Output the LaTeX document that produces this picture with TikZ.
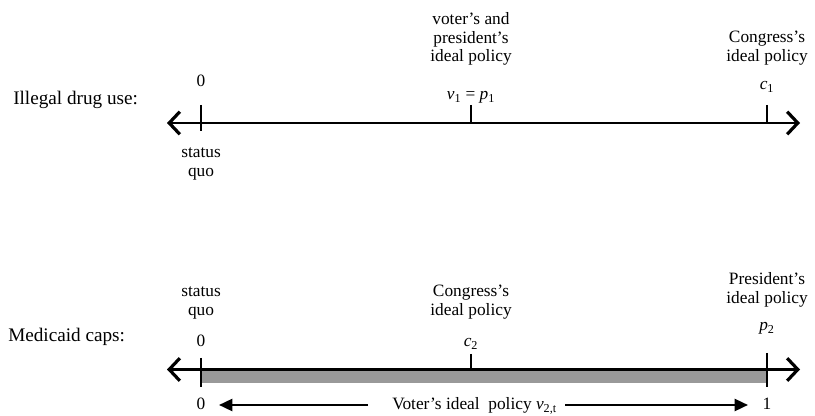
\documentclass[tikz,border=0pt]{standalone}
\usepackage{fontspec}
\setmainfont{Liberation Serif}
\usetikzlibrary{arrows.meta}
\definecolor{bargray}{gray}{0.6}
\tikzset{
  lbl/.style={inner sep=0pt, anchor=base, font=\fontsize{13}{15}\selectfont},
  side/.style={inner sep=0pt, anchor=base west, font=\fontsize{14.4}{17}\selectfont},
  axis/.style={line width=2.2pt, {Straight Barb[length=8pt,width=17pt,line width=2.4pt]}-{Straight Barb[length=8pt,width=17pt,line width=2.4pt]}},
  tick/.style={line width=1.6pt},
  vline/.style={line width=1.8pt, -{Triangle[length=10pt,width=9pt]}},
}
\begin{document}
\begin{tikzpicture}[x=0.75pt,y=-0.75pt]
\useasboundingbox (0,0) rectangle (815,416);
% ---------- top line ----------
\node[side] (drug) at (13,105) {Illegal drug use:};
\coordinate (L1) at (167,123);
\coordinate (R1) at (800,123);
\coordinate (a0) at (201,105); \coordinate (a0b) at (201,131);
\coordinate (av) at (471,105); \coordinate (avb) at (471,123);
\coordinate (ac) at (767,105); \coordinate (acb) at (767,123);
\draw[axis] (L1) -- (R1);
\draw[tick] (a0) -- (a0b);
\draw[tick] (av) -- (avb);
\draw[tick] (ac) -- (acb);
\node[lbl] (z1) at (201,87) {0};
\node[lbl] (sq1) at (201,158) {status};
\node[lbl] (sq2) at (201,177) {quo};
\node[lbl] (vp1) at (471,25) {voter's and};
\node[lbl] (vp2) at (471,43.5) {president's};
\node[lbl] (vp3) at (471,62) {ideal policy};
\node[lbl] (vp) at (471,100) {\textit{v}\textsubscript{1} = \textit{p}\textsubscript{1}};
\node[lbl] (cg1) at (767,43) {Congress's};
\node[lbl] (cg2) at (767,62) {ideal policy};
\node[lbl] (c1) at (767,90) {\textit{c}\textsubscript{1}};
% ---------- bottom line ----------
\node[side] (med) at (8,342) {Medicaid caps:};
\fill[bargray] (201,370) rectangle (767,383);
\coordinate (L2) at (167,369.5);
\coordinate (R2) at (800,369.5);
\draw[axis] (L2) -- (R2);
\coordinate (b0) at (201,358); \coordinate (b0b) at (201,387);
\coordinate (bc) at (471,354); \coordinate (bcb) at (471,369.5);
\coordinate (bp) at (767,353); \coordinate (bpb) at (767,387);
\draw[tick] (b0) -- (b0b);
\draw[tick] (bc) -- (bcb);
\draw[tick] (bp) -- (bpb);
\node[lbl] (sq3) at (201,297) {status};
\node[lbl] (sq4) at (201,316) {quo};
\node[lbl] (z2) at (201,347) {0};
\node[lbl] (cg3) at (471,297) {Congress's};
\node[lbl] (cg4) at (471,316) {ideal policy};
\node[lbl] (c2) at (471,347) {\textit{c}\textsubscript{2}};
\node[lbl] (pr1) at (767,285) {President's};
\node[lbl] (pr2) at (767,304) {ideal policy};
\node[lbl] (p2) at (767,331) {\textit{p}\textsubscript{2}};
% voter's range
\node[lbl] (z3) at (201,410) {0};
\node[lbl] (one) at (767,410) {1};
\node[lbl, anchor=base west] (vt) at (392,410) {Voter's ideal\ \ policy \textit{v}\textsubscript{2,t}};
\coordinate (va) at (368,405); \coordinate (vaa) at (219,405);
\coordinate (vb) at (565,405); \coordinate (vbb) at (748,405);
\draw[vline] (va) -- (vaa);
\draw[vline] (vb) -- (vbb);
\end{tikzpicture}
\end{document}
